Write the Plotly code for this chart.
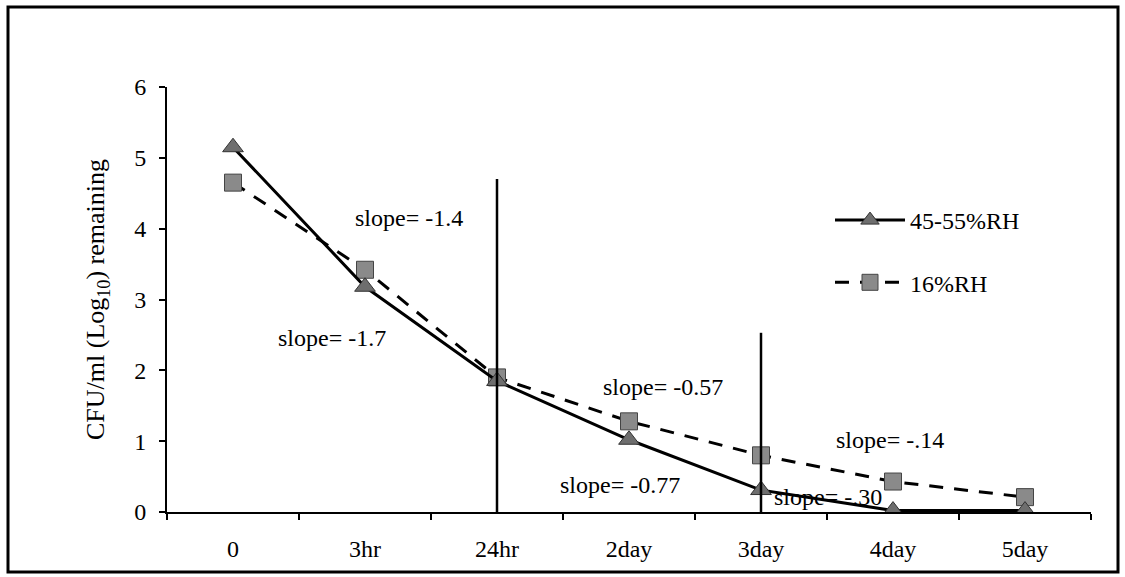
import plotly.graph_objects as go

# ---- data ----
categories = ["0", "3hr", "24hr", "2day", "3day", "4day", "5day"]
rh_45_55 = [5.15, 3.18, 1.85, 1.02, 0.31, 0.02, 0.02]
rh_16 = [4.65, 3.42, 1.90, 1.28, 0.80, 0.43, 0.21]
series_names = ["45-55%RH", "16%RH"]

# vertical separator lines: (category index, top value)
sep_x = [2, 4]
sep_top = [4.7, 2.53]

# slope annotations: text, x (category index), y value
slope_text = ["slope= -1.4", "slope= -1.7", "slope= -0.57", "slope= -0.77", "slope= -.14", "slope= -.30"]
slope_x = [1.33, 0.75, 3.26, 2.93, 4.98, 4.51]
slope_y = [4.15, 2.46, 1.76, 0.38, 1.02, 0.21]

y_ticks = [0, 1, 2, 3, 4, 5, 6]

# ---- layout constants ----
W, H = 1125, 577
ML, MR, MT, MB = 167, 34, 87, 65
FONT = "Liberation Serif, Times New Roman, serif"

fig = go.Figure()

fig.add_trace(go.Scatter(
    x=categories, y=rh_16, name=series_names[1], mode="lines+markers",
    line=dict(color="black", width=3, dash="14px,11px"),
    marker=dict(symbol="square", size=17, color="#8a8a8a", line=dict(color="#444", width=1)),
    legendgroup="b", legendrank=2,
))
fig.add_trace(go.Scatter(
    x=categories, y=rh_45_55, name=series_names[0], mode="lines+markers",
    line=dict(color="black", width=3),
    marker=dict(symbol="triangle-up", size=18, color="#6e6e6e", line=dict(color="#333", width=1)),
    legendgroup="a", legendrank=1,
))

for xv, top in zip(sep_x, sep_top):
    fig.add_shape(type="line", xref="x", yref="y", x0=xv, x1=xv, y0=0, y1=top,
                  line=dict(color="black", width=2.5))

for t, xv, yv in zip(slope_text, slope_x, slope_y):
    fig.add_annotation(x=xv, y=yv, xref="x", yref="y", text=t, showarrow=False,
                       font=dict(family=FONT, size=24, color="black"))

# outer frame
pw = W - ML - MR
ph = H - MT - MB
fx0, fx1 = 8, 1118
fy0, fy1 = 7, 572
fig.add_shape(type="rect", xref="paper", yref="paper",
              x0=(fx0 - ML) / pw, x1=(fx1 - ML) / pw,
              y0=(H - MB - fy1) / ph, y1=(H - MB - fy0) / ph,
              line=dict(color="black", width=3), fillcolor="rgba(0,0,0,0)")

fig.update_layout(
    width=W, height=H,
    margin=dict(l=ML, r=MR, t=MT, b=MB, pad=0),
    paper_bgcolor="white", plot_bgcolor="white",
    font=dict(family=FONT, size=24, color="black"),
    showlegend=True,
    legend=dict(x=(830 - ML) / pw, y=(H - MB - 198) / ph, xanchor="left", yanchor="top",
                bgcolor="rgba(0,0,0,0)", font=dict(family=FONT, size=24),
                traceorder="grouped", tracegroupgap=28, itemwidth=70),
    xaxis=dict(type="category", categoryorder="array", categoryarray=categories,
               range=[-0.5, 6.5], showline=True, linecolor="black", linewidth=2,
               ticks="outside", ticklen=6, tickwidth=1.5, tickcolor="black",
               tickson="boundaries", showgrid=False, zeroline=False,
               ticklabelstandoff=14, tickfont=dict(family=FONT, size=24)),
    yaxis=dict(range=[0, 6], tickvals=y_ticks, showline=True, linecolor="black", linewidth=2,
               ticks="outside", ticklen=6, tickwidth=1.5, tickcolor="black",
               showgrid=False, zeroline=False, ticklabelstandoff=8,
               tickfont=dict(family=FONT, size=24),
               title=dict(text="CFU/ml (Log<sub>10</sub>) remaining", standoff=22,
                          font=dict(family=FONT, size=26))),
)

fig.write_html("out.html", config={"displayModeBar": False},
               post_script="document.body.style.margin='0px';document.body.style.overflow='hidden';")
